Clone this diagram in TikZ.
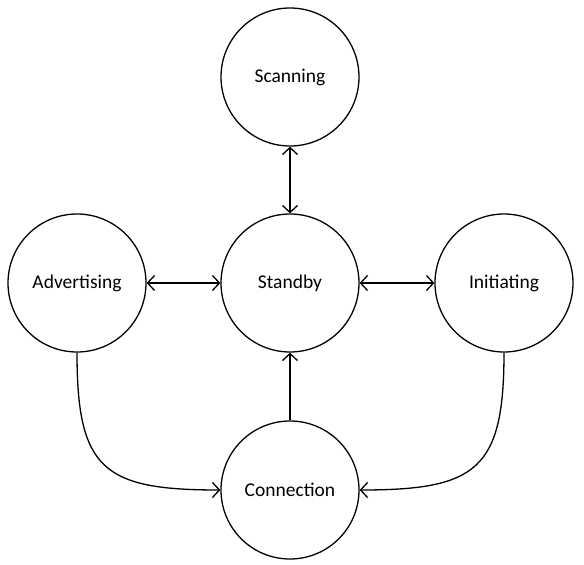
\documentclass[tikz,border=0pt]{standalone}
\usepackage{fontspec}
\setmainfont{Carlito}
\usetikzlibrary{arrows.meta}
\begin{document}
\begin{tikzpicture}[x=1pt,y=-1pt,
  state/.style={draw, circle, line width=1.3pt, minimum size=138pt, inner sep=0pt, font=\fontsize{19.5}{22}\selectfont},
  conn/.style={line width=1.3pt, arrows={-Straight Barb[length=7pt,width=15pt,line width=1.3pt]}},
  both/.style={line width=1.3pt, arrows={Straight Barb[length=7pt,width=15pt,line width=1.3pt]-Straight Barb[length=7pt,width=15pt,line width=1.3pt]}}]
\useasboundingbox (0,0) rectangle (584,565);
\node[state] (scan) at (290,77) {Scanning};
\node[state] (stand) at (290,283) {Standby};
\node[state] (adv) at (77,283) {Advertising};
\node[state] (init) at (504,283) {Initiating};
\node[state] (con) at (290,490) {Connection};
\draw[both] (scan) -- (stand);
\draw[both] (adv) -- (stand);
\draw[both] (stand) -- (init);
\draw[conn] (con) -- (stand);
\draw[conn] (adv.south) .. controls ++(0,117) and ++(-117,0) .. (con.west);
\draw[conn] (init.south) .. controls ++(0,117) and ++(117,0) .. (con.east);
\end{tikzpicture}
\end{document}
